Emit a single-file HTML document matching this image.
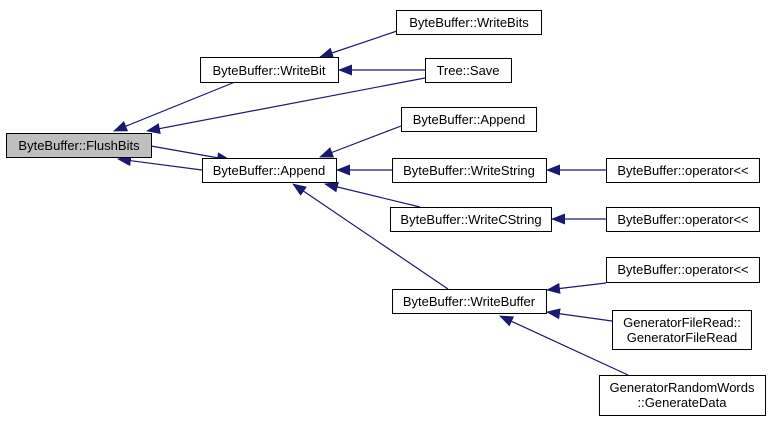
<!DOCTYPE html>
<html><head><style>body{margin:0;background:#fff}svg{display:block}text{font-family:"Liberation Sans",Arial,sans-serif;font-size:13px;fill:#000}</style></head><body>
<svg width="771" height="421" viewBox="0 0 771 421" xmlns="http://www.w3.org/2000/svg">
<defs><marker id="a" markerWidth="14" markerHeight="11" refX="13" refY="5.5" orient="auto" markerUnits="userSpaceOnUse"><path d="M0,0 L14,5.5 L0,11 Z" fill="#191970"/></marker></defs>
<g stroke="#191970" stroke-width="1.2" fill="none" marker-end="url(#a)">
<line x1="235" y1="82" x2="114" y2="131"/>
<line x1="425" y1="78" x2="147" y2="131"/>
<line x1="151" y1="146" x2="230" y2="160"/>
<line x1="202" y1="170" x2="118" y2="159"/>
<line x1="400" y1="30" x2="320" y2="57"/>
<line x1="425" y1="70" x2="339" y2="70"/>
<line x1="401" y1="126" x2="320" y2="157"/>
<line x1="392" y1="170" x2="337" y2="170"/>
<line x1="420" y1="207" x2="325" y2="184"/>
<line x1="448" y1="289" x2="293" y2="184"/>
<line x1="607" y1="170" x2="547" y2="170"/>
<line x1="607" y1="219" x2="552" y2="219"/>
<line x1="606" y1="283" x2="547" y2="290"/>
<line x1="612" y1="321" x2="547" y2="312"/>
<line x1="628" y1="375" x2="500" y2="316"/>
</g>
<g stroke="#000" stroke-width="1" fill="#fff">
<rect x="6.5" y="133.5" width="145" height="24" fill="#bfbfbf"/>
<rect x="200.5" y="57.5" width="138" height="25"/>
<rect x="202.5" y="158.5" width="134" height="24"/>
<rect x="396.5" y="10.5" width="145" height="24"/>
<rect x="425.5" y="58.5" width="86" height="24"/>
<rect x="401.5" y="107.5" width="135" height="24"/>
<rect x="392.5" y="158.5" width="154" height="24"/>
<rect x="390.5" y="207.5" width="161" height="24"/>
<rect x="392.5" y="289.5" width="154" height="24"/>
<rect x="606.5" y="158.5" width="153" height="24"/>
<rect x="606.5" y="207.5" width="153" height="24"/>
<rect x="606.5" y="257.5" width="153" height="25"/>
<rect x="612.5" y="310.5" width="139" height="39"/>
<rect x="599.5" y="375.5" width="166" height="40"/>
</g>
<g text-anchor="middle">
<text x="79" y="150">ByteBuffer::FlushBits</text>
<text x="269" y="75">ByteBuffer::WriteBit</text>
<text x="269" y="175">ByteBuffer::Append</text>
<text x="469" y="27">ByteBuffer::WriteBits</text>
<text x="468" y="75">Tree::Save</text>
<text x="469" y="124">ByteBuffer::Append</text>
<text x="469" y="175">ByteBuffer::WriteString</text>
<text x="471" y="224">ByteBuffer::WriteCString</text>
<text x="469" y="306">ByteBuffer::WriteBuffer</text>
<text x="683" y="175">ByteBuffer::operator&lt;&lt;</text>
<text x="683" y="224">ByteBuffer::operator&lt;&lt;</text>
<text x="683" y="274">ByteBuffer::operator&lt;&lt;</text>
<text x="682" y="327">GeneratorFileRead::</text>
<text x="682" y="342">GeneratorFileRead</text>
<text x="682" y="392">GeneratorRandomWords</text>
<text x="682" y="407">::GenerateData</text>
</g>
</svg>
</body></html>
